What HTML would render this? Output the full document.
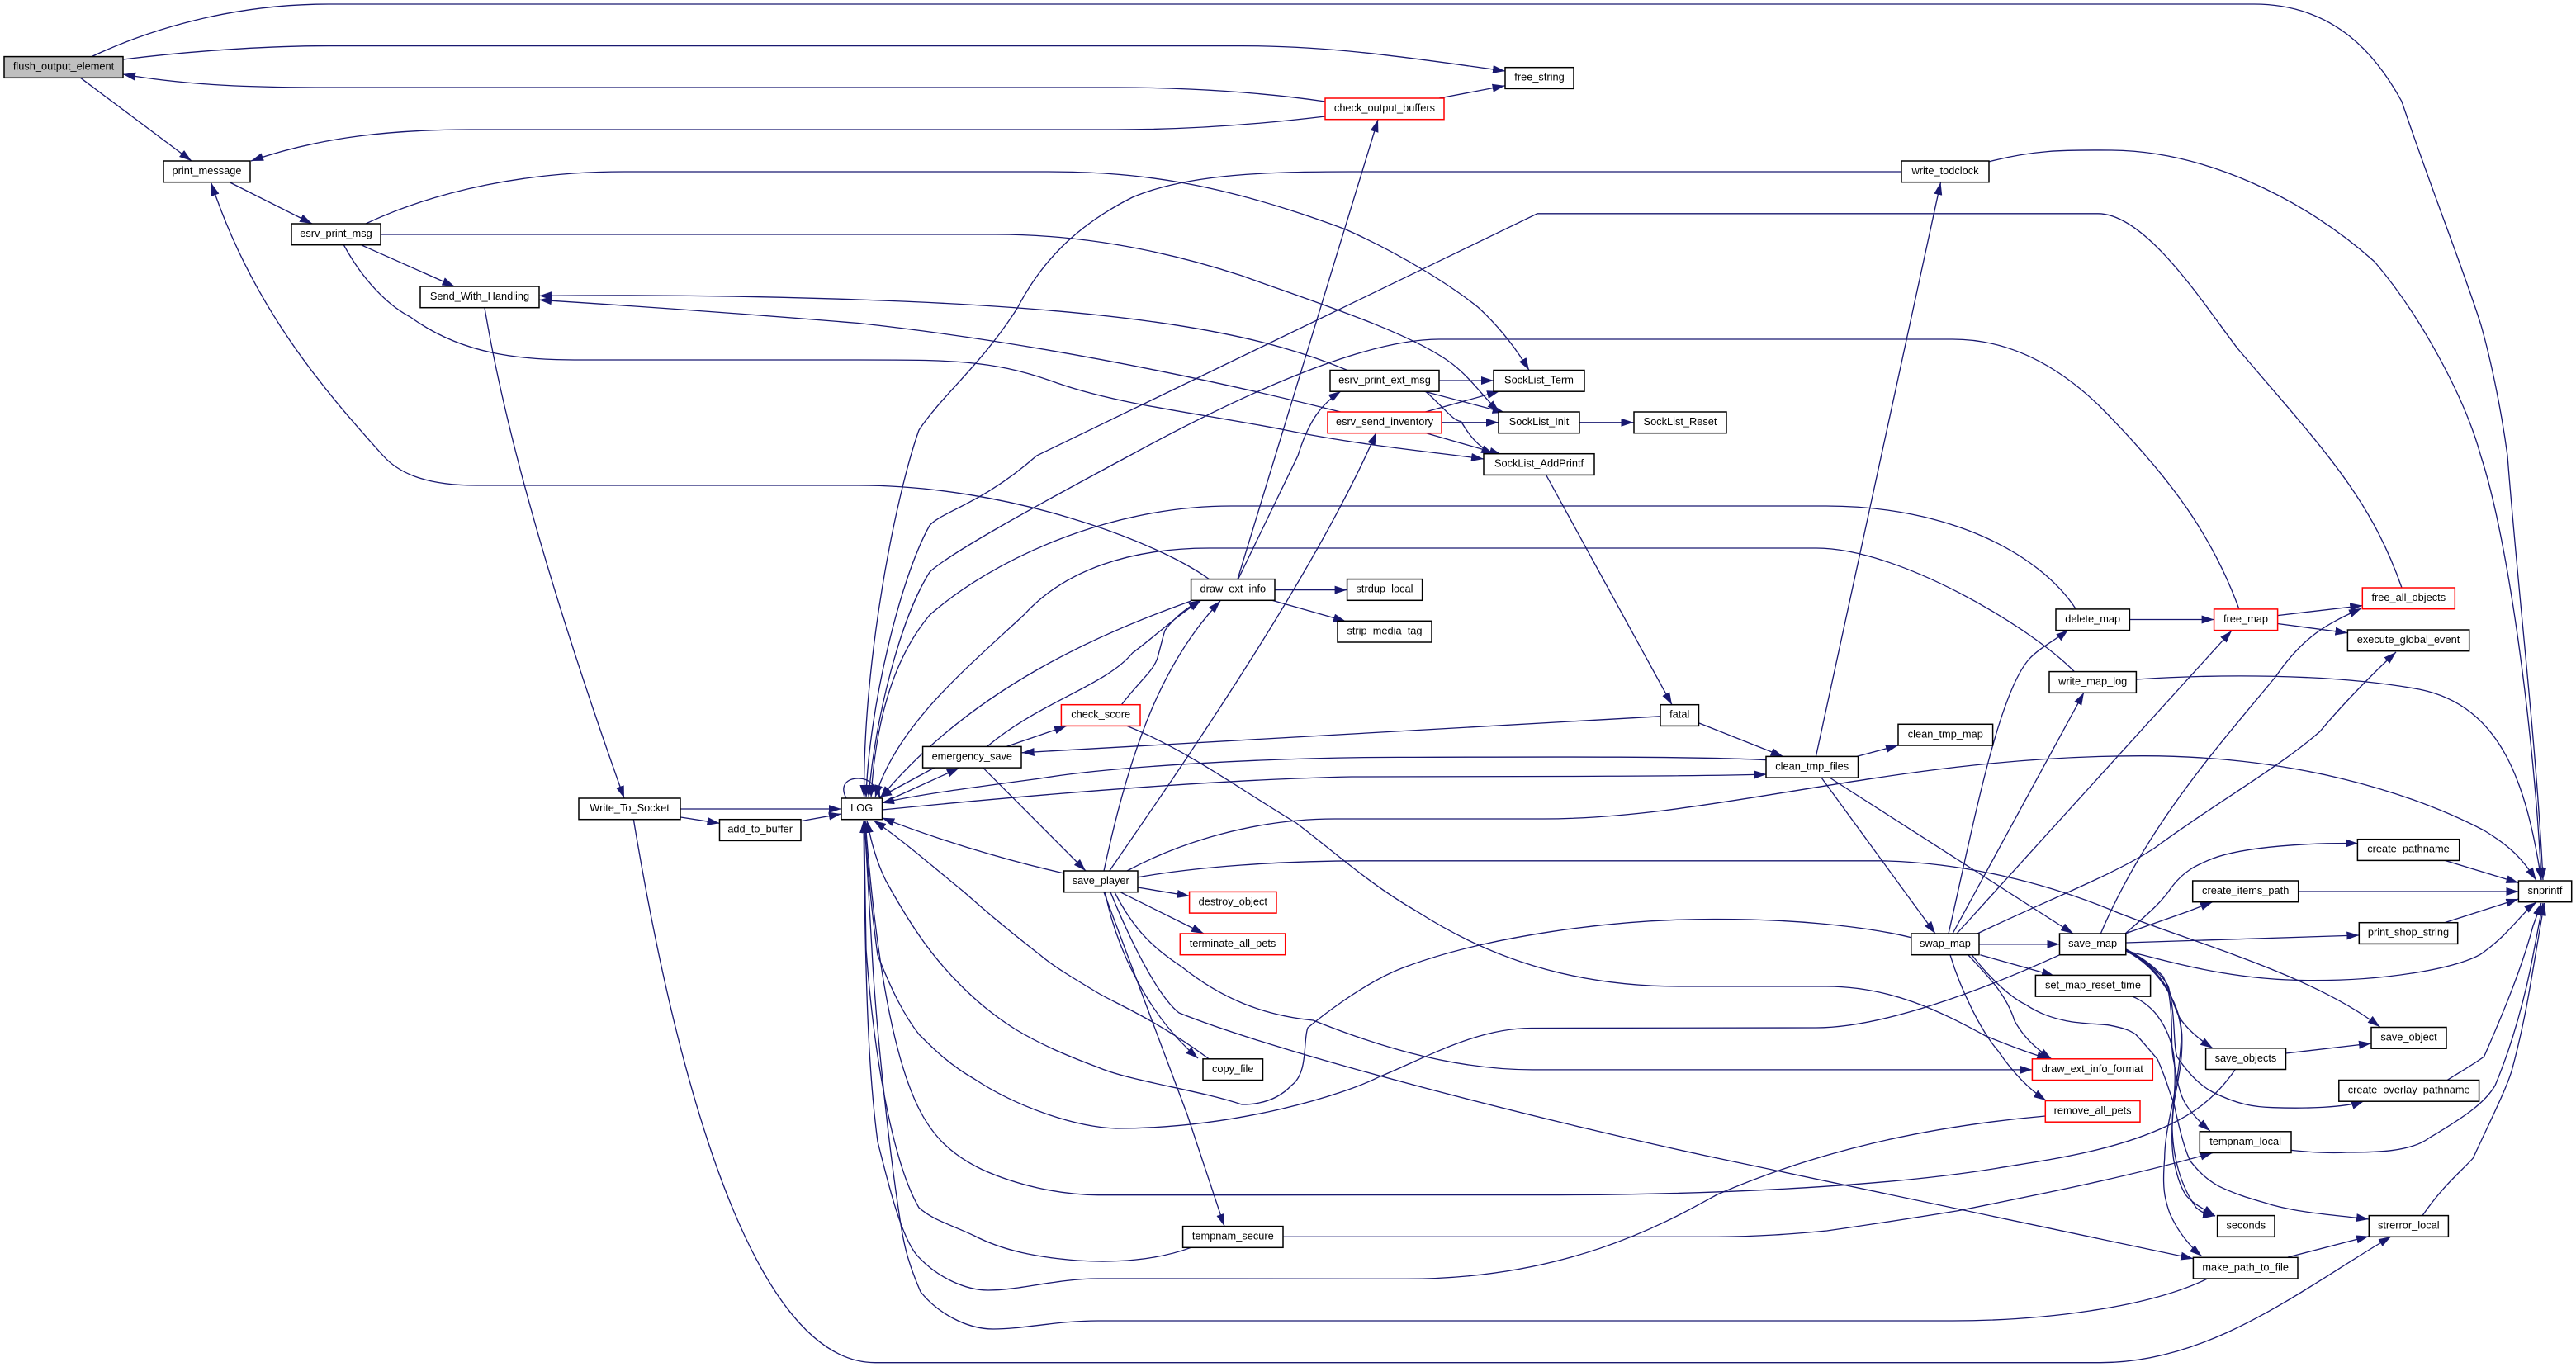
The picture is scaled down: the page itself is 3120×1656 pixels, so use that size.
<!DOCTYPE html>
<html><head><meta charset="utf-8"><style>
html,body{margin:0;padding:0;background:#fff}
svg{display:block}
.e path{fill:none;stroke:#191970;stroke-width:1.3}
.n rect{fill:#fff;stroke:#000;stroke-width:1.5}
.n rect.r{stroke:#f00}
.n rect.g{fill:#bfbfbf}
text{font-family:"Liberation Sans",sans-serif;font-size:12.8px;fill:#000;text-anchor:middle}
</style></head><body>
<svg width="3120" height="1656" viewBox="0 0 3120 1656" xmlns="http://www.w3.org/2000/svg">
<defs><marker id="a" markerUnits="userSpaceOnUse" markerWidth="16" markerHeight="11" refX="15" refY="5" orient="auto"><path d="M0,0L15,5L0,10z" fill="#191970"/></marker></defs>
<rect width="3120" height="1656" fill="#fff"/>
<g class="e" marker-end="url(#a)">
<path d="M111,68.6C180,36 280,5 398,5L2730,5C2830,5 2880,70 2909,123C2945,230 2985,330 3005,394C3018,440 3030,500 3037,552C3050,720 3072,900 3080,1066"/>
<path d="M149,72C230,62 320,55.6 398,55.6L1504,55.6C1620,55.6 1720,72 1823,86"/>
<path d="M1605,123C1530,112 1440,106 1352,106L398,106C310,106 230,104 149,90"/>
<path d="M1605,141C1530,150 1440,157 1352,157L570,157C480,157 390,165 304,195"/>
<path d="M97.5,94.3L232,195"/>
<path d="M278.5,221L378,271"/>
<path d="M443,271C530,230 640,208 756,208L1265,208C1370,208 1470,218 1630,278C1700,309 1760,348 1790,372C1815,395 1835,420 1852,448.5"/>
<path d="M461,284L1206,284C1300,284 1400,300 1504,334C1590,365 1700,400 1753,436.5C1780,455 1795,480 1816,499"/>
<path d="M437.6,296.8L550.5,347"/>
<path d="M416.4,296.8C440,340 470,370 497,384C560,430 630,436 703,436L1040,436C1150,436 1200,436 1272,461C1350,490 1450,500 1557,521C1650,540 1740,548 1797,556"/>
<path d="M1464.5,701.6C1400,655 1220,588 1040,588L577,588C510,588 480,570 464,552C390,470 305,370 256,222"/>
<path d="M1499,701.6L1669,145"/>
<path d="M1499.6,701.6L1572,552C1585,510 1600,490 1624,474"/>
<path d="M1544,714.6L1631.6,714.6"/>
<path d="M1540.8,727.3L1630,752.6"/>
<path d="M1442.6,728C1340,765 1180,830 1066,967"/>
<path d="M1196,904C1260,850 1340,830 1371.6,791C1400,770 1420,750 1455,727"/>
<path d="M1358.4,853.7C1380,825 1395,815 1401.5,798.4C1408,775 1410,765 1411.4,763C1425,745 1440,735 1454.5,727"/>
<path d="M1337,1055C1370,900 1410,800 1478,728"/>
<path d="M1343.8,1055C1430,930 1590,700 1667,524"/>
<path d="M1219,904.4L1292,879.4"/>
<path d="M1131.7,930L1065,966"/>
<path d="M1068,973L1161.7,930.4"/>
<path d="M1191,930.4L1315,1055"/>
<path d="M1025,967C1017,952 1025,943 1040,943C1052,943 1060,950 1066,967"/>
<path d="M824.4,980L1018.8,980"/>
<path d="M824.4,990L871.5,997.3"/>
<path d="M971,994.5L1018.8,986"/>
<path d="M587,373C620,570 700,810 756,967"/>
<path d="M767.4,993C810,1250 900,1650.7 1060,1650.7L2544,1650.7C2680,1650.7 2790,1560 2896,1498"/>
<path d="M1632,448.5C1540,410 1400,375 1040,363C900,358 780,357 653,358.4"/>
<path d="M1623.7,499C1540,478 1300,420 1040,391.5C900,380 790,372 653,363.3"/>
<path d="M1743,461L1809,461"/>
<path d="M1724.5,474L1822.6,499.9"/>
<path d="M1726.5,474C1750,495 1760,510 1769.6,510.5C1778,525 1790,542 1809,550"/>
<path d="M1726.5,499L1816,474"/>
<path d="M1746,511.8L1815,511.8"/>
<path d="M1726.5,524.5L1819,551"/>
<path d="M1913.5,511.8L1978.5,511.8"/>
<path d="M1872.4,575L2025,853.7"/>
<path d="M2011,867.8L1237.7,911.8"/>
<path d="M2058,876L2159.6,916.4"/>
<path d="M2140,920.6C2050,916 1850,917 1703,917.4C1550,917 1350,928 1260,943C1170,955 1110,963 1068,972.7"/>
<path d="M1068.5,981C1200,968 1450,945 1637,941L1900,940.5C2000,940 2080,940 2139.7,938"/>
<path d="M2199.4,916.4L2350.5,221"/>
<path d="M2249,916.4L2299,903"/>
<path d="M2206,942L2344,1131"/>
<path d="M2216,942L2511,1131"/>
<path d="M2303,208L1637,208C1540,208 1440,210 1371.6,239C1300,275 1260,320 1232.3,373C1190,440 1140,480 1113,521C1085,600 1045,800 1046.6,966"/>
<path d="M2909,712C2870,600 2810,540 2710,422C2670,370 2600,258.8 2541,258.8L1862,258.8L1255.6,552C1190,610 1140,620 1126,636.5C1090,700 1052,860 1049,966"/>
<path d="M2712,738C2680,650 2630,580 2544,493C2500,450 2440,411 2365,411L1743,411C1650,411 1500,480 1368,552C1260,610 1150,670 1126,693C1090,750 1060,870 1052,966"/>
<path d="M2514.4,738C2470,670 2360,613 2212,613L1491,613C1340,613 1200,680 1126,745C1080,800 1060,880 1055,966"/>
<path d="M2512.4,813.6C2460,760 2300,664 2200,664L1464.5,664C1370,664 1290,690 1240,745C1170,810 1085,880 1060,966"/>
<path d="M2579.4,750.5L2681.6,750.5"/>
<path d="M2758.5,745.6L2861.3,733.6"/>
<path d="M2758.5,755.5L2843.4,766.7"/>
<path d="M2587.4,823C2680,817 2820,815 2930,835C3030,855 3060,950 3078,1066"/>
<path d="M1365,1055C1430,1020 1520,992 1617,992L1869,992C2080,992 2300,915 2597,915.7C2780,916 2920,960 3008.6,1006C3040,1025 3055,1040 3071.6,1066"/>
<path d="M1378,1062.8C1450,1050 1550,1042.8 1650,1042.8L2279,1042.8C2380,1045 2480,1070 2561,1104C2650,1140 2800,1180 2882.5,1244"/>
<path d="M1378,1075L1440.6,1085.4"/>
<path d="M1357,1080.8L1458,1131"/>
<path d="M1338.5,1080.8C1350,1140 1385,1225 1451,1282"/>
<path d="M1337,1080.8L1438,1350.4L1483,1485.6"/>
<path d="M1350,1080.8C1375,1130 1400,1150 1431,1171C1480,1210 1530,1230 1590.5,1236C1650,1260 1750,1295.9 1856,1295.9L2461.4,1295.9"/>
<path d="M1345,1080.8C1365,1130 1400,1205 1428,1227C1560,1280 1900,1365 2080,1403L2656.4,1524.7"/>
<path d="M1288.7,1058C1210,1040 1130,1015 1068.3,990.7"/>
<path d="M1464.5,1283C1400,1235 1350,1215 1330,1203C1300,1185 1275,1170 1260,1157C1225,1130 1195,1105 1167,1080C1130,1050 1090,1015 1058,994"/>
<path d="M2314.8,1135.7C2250,1120 2160,1113.5 2080,1113.5C1950,1113 1800,1135 1703,1171C1650,1190 1590,1240 1584,1245C1578,1260 1585,1300 1564,1315C1550,1330 1530,1338 1504,1338C1450,1320 1370,1310 1330,1293C1290,1278 1260,1265 1230,1247C1200,1228 1180,1210 1163,1193C1130,1160 1105,1125 1073,1067C1062,1045 1055,1020 1050,994"/>
<path d="M2494.5,1156.8C2400,1200 2280,1245 2199.4,1245L1855.8,1245.5C1790,1245 1730,1280 1670,1304.7C1630,1325 1500,1367 1351.7,1367C1300,1365 1230,1340 1180,1307C1150,1290 1130,1270 1113,1253C1095,1230 1080,1200 1063,1157C1055,1100 1050,1040 1047,994"/>
<path d="M2477.3,1352C2330,1365 2200,1395 2080,1447C2020,1480 1900,1549.3 1703,1549.3L1330,1549C1280,1549 1235,1563 1197,1563C1170,1563 1135,1548 1110,1520C1090,1495 1075,1430 1063,1383C1052,1300 1048,1200 1046,994"/>
<path d="M2707,1296C2680,1335 2650,1352 2626.7,1363C2560,1395 2480,1405 2420,1415C2300,1435 2100,1447.6 1869,1447.6L1330,1447.7C1280,1447 1230,1435 1190,1417C1150,1398 1130,1375 1115,1347C1085,1290 1062,1180 1048,994"/>
<path d="M1442.6,1511.3C1400,1527 1350,1530 1305,1527C1255,1523 1215,1515 1180,1497C1150,1483 1130,1478 1113,1463C1085,1415 1060,1300 1049,1150L1046.5,994"/>
<path d="M2673.6,1549C2600,1585 2470,1600 2365,1600L1330,1600C1280,1600 1240,1610 1203,1610C1170,1610 1135,1590 1115,1565C1100,1530 1095,1510 1090,1477C1075,1380 1060,1230 1056,1150L1047,994"/>
<path d="M2360,1131C2390,1000 2420,840 2458,798C2470,785 2490,775 2505,763"/>
<path d="M2365,1131L2524,839"/>
<path d="M2370,1131L2703,764"/>
<path d="M2544.3,1131C2600,1000 2690,900 2756,820C2790,770 2820,755 2860,737"/>
<path d="M2397,1143.8L2494.5,1143.8"/>
<path d="M2398.4,1156.8L2488,1182"/>
<path d="M2383.8,1156.8C2410,1185 2430,1205 2440,1236.7C2450,1255 2465,1270 2485,1283"/>
<path d="M2362,1156.8C2375,1200 2400,1250 2420,1273C2435,1295 2455,1318 2478,1333"/>
<path d="M2388.4,1157C2410,1185 2435,1208 2453,1216.7C2470,1228 2485,1233 2503,1236.7C2520,1240 2535,1240 2553,1241.7C2570,1245 2578,1247 2586.7,1253C2598,1265 2606,1275 2613,1283C2625,1310 2628,1325 2633,1336.7C2640,1370 2647,1395 2653,1406.7C2665,1422 2675,1430 2686.7,1436.7C2710,1448 2730,1453 2753,1460C2790,1470 2830,1472 2869,1477"/>
<path d="M2395,1131C2480,1090 2560,1060 2610,1027C2680,975 2760,930 2810,886C2840,850 2880,810 2902,790"/>
<path d="M2574.8,1142L2857.3,1133"/>
<path d="M2575,1152C2630,1165 2700,1187.7 2800,1187.7C2900,1188 2990,1170 3010,1152C3040,1130 3055,1105 3072,1093"/>
<path d="M2574,1131L2650.4,1104L2680,1092.6"/>
<path d="M2574,1131C2610,1100 2620,1090 2630,1075C2645,1055 2660,1048 2680,1040C2720,1025 2800,1021 2856,1021.6"/>
<path d="M2575,1150C2595,1160 2610,1172 2620,1183C2630,1205 2633,1220 2640,1233C2650,1248 2665,1260 2680,1269.8"/>
<path d="M2575,1150C2610,1170 2625,1190 2626.7,1196.7C2635,1230 2632,1265 2636.7,1280C2650,1300 2665,1315 2680,1323C2710,1338 2730,1341 2753,1341.7C2790,1343 2840,1342 2863,1334"/>
<path d="M2575,1151C2610,1170 2625,1195 2626.7,1203C2633,1240 2628,1265 2633,1286.7C2637,1310 2640,1325 2646.7,1336.7C2655,1350 2665,1360 2676.7,1370"/>
<path d="M2575,1151C2610,1170 2640,1210 2642.7,1253C2644,1290 2636,1315 2633,1337C2630,1365 2630,1390 2633,1406.7C2637,1425 2640,1435 2646.7,1446.7C2655,1458 2670,1465 2683,1473"/>
<path d="M2575,1152C2610,1170 2640,1210 2642,1253C2640,1320 2622,1360 2621.7,1403C2620,1425 2620,1440 2623,1453C2627,1470 2630,1475 2636.7,1486.7C2645,1500 2655,1512 2666.7,1521.7"/>
<path d="M2583,1207.3C2595,1212 2603,1219 2610,1226.7C2625,1245 2631,1265 2633,1280C2637,1320 2630,1345 2631,1368C2632,1400 2640,1435 2660,1463C2668,1470 2675,1472 2683,1473"/>
<path d="M2768.5,1276L2872,1264"/>
<path d="M2775,1393.4C2800,1396 2825,1397 2842.8,1396C2880,1396 2920,1395 2942,1378.6C2990,1350 3010,1335 3022,1315C3045,1260 3060,1200 3068,1157L3080,1094"/>
<path d="M2934,1472.6C2960,1435 2980,1420 2995.3,1403C3020,1350 3035,1320 3042,1297.6C3055,1250 3062,1210 3068,1174L3081.5,1094"/>
<path d="M2964,1308.5C2985,1295 2995,1290 3008.6,1280C3035,1220 3055,1170 3068,1121.6L3078,1094"/>
<path d="M2771,1523L2869,1497.6"/>
<path d="M1554,1498.3L2080,1498.3C2130,1498 2170,1495 2212.6,1491C2270,1483 2320,1475 2372,1466.6C2480,1445 2580,1425 2680,1396.5"/>
<path d="M2960.8,1117.7L3050.4,1089"/>
<path d="M2960,1042L3050.4,1069.5"/>
<path d="M2784.4,1080L3050.4,1080"/>
<path d="M1365,879.4C1440,910 1500,955 1570,997C1620,1035 1660,1072 1716,1104C1780,1145 1880,1195 2035,1195L2212,1195C2290,1195 2350,1225 2405,1255C2430,1265 2455,1275 2482,1283"/>
<path d="M2409.6,195.7C2470,180 2510,182 2557.6,182C2670,183 2790,240 2876,317C2930,380 2985,480 3004.6,552C3040,660 3070,900 3078,1066"/>
<path d="M1743,119L1822.6,103.9"/>
</g>
<g class="n">
<rect class="g" x="5" y="68.6" width="144" height="25.7"/><text x="77" y="84.6">flush_output_element</text>
<rect x="198" y="195" width="105" height="25.7"/><text x="250.5" y="211">print_message</text>
<rect x="353" y="271" width="108" height="25.7"/><text x="407" y="287">esrv_print_msg</text>
<rect x="509" y="347" width="144" height="25.7"/><text x="581" y="363">Send_With_Handling</text>
<rect x="1823" y="81.7" width="83" height="25.7"/><text x="1864.5" y="97.7">free_string</text>
<rect class="r" x="1605" y="119" width="144" height="25.7"/><text x="1677" y="135">check_output_buffers</text>
<rect x="1611" y="448.5" width="132" height="25.7"/><text x="1677" y="464.5">esrv_print_ext_msg</text>
<rect x="1809" y="448.5" width="110" height="25.7"/><text x="1864" y="464.5">SockList_Term</text>
<rect class="r" x="1608" y="499" width="138" height="25.7"/><text x="1677" y="515">esrv_send_inventory</text>
<rect x="1815" y="499" width="98" height="25.7"/><text x="1864" y="515">SockList_Init</text>
<rect x="1979" y="499" width="112" height="25.7"/><text x="2035" y="515">SockList_Reset</text>
<rect x="1797" y="549.7" width="134" height="25.7"/><text x="1864" y="565.7">SockList_AddPrintf</text>
<rect x="2303" y="195" width="106" height="25.7"/><text x="2356" y="211">write_todclock</text>
<rect x="701" y="967" width="123" height="25.7"/><text x="762.5" y="983">Write_To_Socket</text>
<rect x="871.5" y="992.7" width="98.5" height="25.7"/><text x="920.7" y="1008.7">add_to_buffer</text>
<rect x="1019" y="967" width="49.5" height="25.7"/><text x="1043.7" y="983">LOG</text>
<rect x="1442.6" y="701.6" width="101.4" height="25.7"/><text x="1493.3" y="717.6">draw_ext_info</text>
<rect x="1631.6" y="701.6" width="91" height="25.7"/><text x="1677" y="717.6">strdup_local</text>
<rect x="1620" y="752.3" width="114" height="25.7"/><text x="1677" y="768.3">strip_media_tag</text>
<rect class="r" x="1285.4" y="853.7" width="95.6" height="25.7"/><text x="1333.2" y="869.7">check_score</text>
<rect x="2011" y="853.7" width="46.5" height="25.7"/><text x="2034.2" y="869.7">fatal</text>
<rect x="1117.6" y="904.4" width="119.4" height="25.7"/><text x="1177.3" y="920.4">emergency_save</text>
<rect x="1288.7" y="1055" width="89.3" height="25.7"/><text x="1333.3" y="1071">save_player</text>
<rect class="r" x="1440.6" y="1080.4" width="105.4" height="25.7"/><text x="1493.3" y="1096.4">destroy_object</text>
<rect x="2490" y="737.9" width="89.4" height="25.7"/><text x="2534.7" y="753.9">delete_map</text>
<rect class="r" x="2681.6" y="737.9" width="77" height="25.7"/><text x="2720" y="753.9">free_map</text>
<rect class="r" x="2861.3" y="712" width="112" height="25.7"/><text x="2917.3" y="728">free_all_objects</text>
<rect x="2843.4" y="763" width="147.3" height="25.7"/><text x="2917" y="779">execute_global_event</text>
<rect x="2482" y="813.6" width="105.4" height="25.7"/><text x="2534.7" y="829.6">write_map_log</text>
<rect x="2299" y="877.3" width="114.6" height="25.7"/><text x="2356.3" y="893.3">clean_tmp_map</text>
<rect x="2139" y="916.4" width="111.5" height="25.7"/><text x="2194.7" y="932.4">clean_tmp_files</text>
<rect x="2855.4" y="1016.7" width="123.3" height="25.7"/><text x="2917" y="1032.7">create_pathname</text>
<rect x="2655.7" y="1067" width="128" height="25.7"/><text x="2719.7" y="1083">create_items_path</text>
<rect x="3050.4" y="1067" width="64.3" height="25.7"/><text x="3082.5" y="1083">snprintf</text>
<rect class="r" x="1429.3" y="1131" width="127.4" height="25.7"/><text x="1493" y="1147">terminate_all_pets</text>
<rect x="1457" y="1282.8" width="72.5" height="25.7"/><text x="1493.2" y="1298.8">copy_file</text>
<rect x="1432.6" y="1485.6" width="121.4" height="25.7"/><text x="1493.3" y="1501.6">tempnam_secure</text>
<rect x="2314.8" y="1131" width="82.2" height="25.7"/><text x="2355.9" y="1147">swap_map</text>
<rect x="2494.5" y="1131" width="80.3" height="25.7"/><text x="2534.6" y="1147">save_map</text>
<rect x="2857.3" y="1117.7" width="119.4" height="25.7"/><text x="2917" y="1133.7">print_shop_string</text>
<rect x="2465.4" y="1181.4" width="139.2" height="25.7"/><text x="2535" y="1197.4">set_map_reset_time</text>
<rect x="2872" y="1244.5" width="91" height="25.7"/><text x="2917.5" y="1260.5">save_object</text>
<rect x="2671.6" y="1269.8" width="96.9" height="25.7"/><text x="2720" y="1285.8">save_objects</text>
<rect class="r" x="2461.4" y="1282.8" width="145.9" height="25.7"/><text x="2534.3" y="1298.8">draw_ext_info_format</text>
<rect x="2832.8" y="1308.5" width="169.8" height="25.7"/><text x="2917.7" y="1324.5">create_overlay_pathname</text>
<rect class="r" x="2477.3" y="1333.5" width="114.7" height="25.7"/><text x="2534.6" y="1349.5">remove_all_pets</text>
<rect x="2664.3" y="1370.8" width="110.7" height="25.7"/><text x="2719.6" y="1386.8">tempnam_local</text>
<rect x="2685.6" y="1472.6" width="69.4" height="25.7"/><text x="2720.3" y="1488.6">seconds</text>
<rect x="2869.3" y="1472.6" width="96.1" height="25.7"/><text x="2917.3" y="1488.6">strerror_local</text>
<rect x="2656.4" y="1523.3" width="126.6" height="25.7"/><text x="2719.7" y="1539.3">make_path_to_file</text>
</g>
</svg>
</body></html>
